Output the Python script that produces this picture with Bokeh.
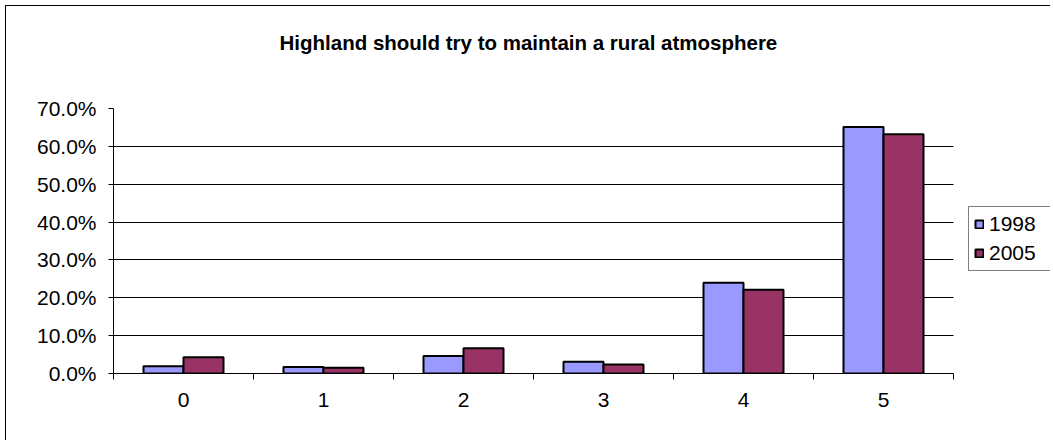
from bokeh.plotting import figure
from bokeh.models import (ColumnDataSource, FixedTicker, NumeralTickFormatter, Legend, LegendItem,
                          Range1d)
from bokeh.embed import file_html
from bokeh.resources import INLINE

categories = ["0", "1", "2", "3", "4", "5"]
series_names = ["1998", "2005"]
values_1998 = [0.019, 0.017, 0.046, 0.031, 0.240, 0.651]
values_2005 = [0.043, 0.015, 0.067, 0.024, 0.221, 0.632]
y_ticks = [0.0, 0.1, 0.2, 0.3, 0.4, 0.5, 0.6, 0.7]
title_text = "Highland should try to maintain a rural atmosphere"

FONT = "Liberation Sans"
n = len(categories)
centers = [i + 0.5 for i in range(n)]
bw = 40 / 140

W, H = 1050, 440
LEFT, PLOT_RIGHT, TOP, BOTTOM = 113, 953, 108, 373
# frame runs to the right edge; the category axis occupies LEFT..PLOT_RIGHT
x_end = n * (W - LEFT) / (PLOT_RIGHT - LEFT)

src = ColumnDataSource(dict(
    x1=[c - bw / 2 for c in centers],
    x2=[c + bw / 2 for c in centers],
    v1=values_1998, v2=values_2005,
))

p = figure(width=W, height=H, output_backend="svg", toolbar_location=None,
           x_range=Range1d(0, x_end), y_range=Range1d(0, 0.7),
           min_border_left=LEFT, min_border_right=0, min_border_top=TOP,
           min_border_bottom=H - BOTTOM)
p.background_fill_color = None
p.border_fill_color = None
p.outline_line_color = None
p.styles = {
    "background": ("linear-gradient(#000,#000) 5px 5px / 1px 100% no-repeat, "
                   "linear-gradient(#000,#000) 5px 5px / 100% 1px no-repeat, #ffffff"),
}

# gridlines (limited to the category extent)
p.xgrid.grid_line_color = None
g = p.ygrid[0]
g.grid_line_color = "black"
g.grid_line_width = 1
g.ticker = FixedTicker(ticks=y_ticks)
if "cross_bounds" in g.properties():
    g.cross_bounds = (0, n)
else:
    g.grid_line_color = None
    p.segment(x0=[0] * len(y_ticks), x1=[n] * len(y_ticks), y0=y_ticks, y1=y_ticks,
              line_color="black", line_width=1)

r1 = p.vbar(x="x1", top="v1", width=bw, source=src, fill_color="#9999FF",
            line_color="black", line_width=2)
r2 = p.vbar(x="x2", top="v2", width=bw, source=src, fill_color="#993366",
            line_color="black", line_width=2)

# x axis
p.xaxis.bounds = (0, n)
p.xaxis.ticker = FixedTicker(ticks=centers, minor_ticks=list(range(n + 1)))
p.xaxis.major_label_overrides = {c: categories[i] for i, c in enumerate(centers)}
p.xaxis.major_tick_line_color = None
p.xaxis.minor_tick_line_color = "black"
p.xaxis.minor_tick_out = 6
p.xaxis.minor_tick_in = 0
p.xaxis.axis_line_color = "black"
p.xaxis.major_label_standoff = 13
p.xaxis.major_label_text_font = FONT
p.xaxis.major_label_text_font_size = "21px"
p.xaxis.major_label_text_color = "black"

# y axis
p.yaxis.ticker = FixedTicker(ticks=y_ticks)
p.yaxis.formatter = NumeralTickFormatter(format="0.0%")
p.yaxis.minor_tick_line_color = None
p.yaxis.major_tick_out = 5
p.yaxis.major_tick_in = 0
p.yaxis.axis_line_color = "black"
p.yaxis.major_tick_line_color = "black"
p.yaxis.major_label_standoff = 12
p.yaxis.major_label_text_font = FONT
p.yaxis.major_label_text_font_size = "21px"
p.yaxis.major_label_text_color = "black"

# title
p.title.text = title_text
p.title.align = "left"
p.title.offset = 166
p.title.vertical_align = "top"
p.title.standoff = 10
p.title.padding = dict(left=0, right=0, top=0, bottom=48)
p.title.text_font = FONT
p.title.text_font_size = "20.5px"
p.title.text_font_style = "bold"
p.title.text_color = "black"

# legend (inside the extended frame, right of the categories)
legend = Legend(items=[LegendItem(label=series_names[0], renderers=[r1]),
                       LegendItem(label=series_names[1], renderers=[r2])],
                location=(968 - LEFT, BOTTOM - 271))
legend.label_text_font = FONT
legend.label_text_font_size = "21px"
legend.label_text_color = "black"
legend.glyph_width = 10
legend.glyph_height = 10
legend.label_standoff = 5
legend.label_width = 57
legend.label_height = 20
legend.padding = 5
legend.spacing = 5
legend.margin = 0
legend.border_line_color = "black"
legend.border_line_width = 1
legend.background_fill_color = "white"
legend.background_fill_alpha = 1
p.add_layout(legend, "center")

open("out.html", "w").write(file_html(p, INLINE))
